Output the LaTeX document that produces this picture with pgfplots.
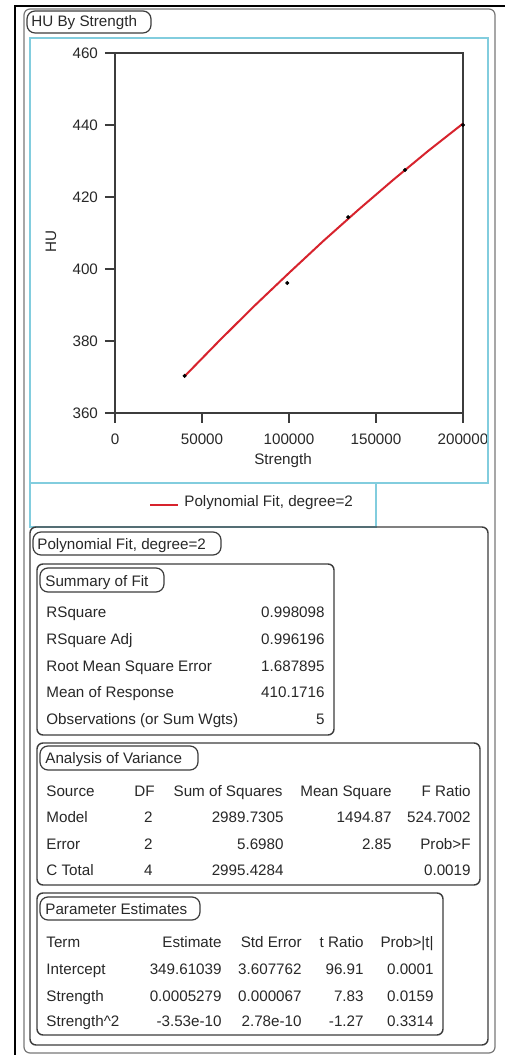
\documentclass[border=0pt]{standalone}
\usepackage{fontspec}
\setmainfont{Liberation Sans}
\usepackage{pgfplots}
\pgfplotsset{compat=1.18}
\definecolor{jmpcyan}{RGB}{130,205,222}
\definecolor{jmpbox}{RGB}{60,60,60}
\definecolor{jmpgrey}{RGB}{120,120,120}
\definecolor{jmpred}{RGB}{215,35,45}
\definecolor{jmptext}{RGB}{40,40,40}
\begin{document}
\begin{tikzpicture}[font=\fontsize{7.6pt}{9pt}\selectfont, text=jmptext]
\useasboundingbox (0,0) rectangle (252.5pt,527.5pt);
\fill[white] (0,0) rectangle (252.5pt,527.5pt);
\begin{axis}[
  at={(57.5pt,321pt)}, anchor=south west,
  scale only axis, width=174pt, height=180pt,
  xmin=0, xmax=200000, ymin=360, ymax=460,
  xtick={0,50000,100000,150000,200000},
  ytick={360,380,400,420,440,460},
  scaled x ticks=false,
  /pgf/number format/assume math mode=true,
  xticklabel style={/pgf/number format/fixed, /pgf/number format/1000 sep={}, yshift=-2pt},
  yticklabel style={/pgf/number format/1000 sep={}},
  tick label style={font=\fontsize{7.6pt}{9pt}\selectfont, text=jmptext},
  tick align=outside, tick pos=left,
  major tick length=5pt,
  axis line style={jmpbox, line width=0.6pt},
  tick style={jmpbox, line width=0.6pt},
  xlabel={Strength}, ylabel={HU},
  xlabel style={at={(axis description cs:0.483,-0.131)}, anchor=center, font=\fontsize{7.6pt}{9pt}\selectfont},
  ylabel style={at={(axis description cs:-0.184,0.475)}, anchor=center, font=\fontsize{7.6pt}{9pt}\selectfont},
  clip=false,
]
\addplot[jmpred, line width=1pt, no marks] coordinates {
 (40000,370.2) (60000,380.1) (80000,389.7) (100000,398.9) (120000,407.9)
 (140000,416.5) (160000,424.8) (180000,432.8) (200000,440.4)};
\addplot[only marks, mark=*, mark size=0.8pt, black] coordinates {
 (40000,370.3) (99000,396.1) (134000,414.4) (166700,427.5) (200000,440.0)};
\end{axis}
\begin{scope}[shift={(0,527.5pt)}, x=0.5pt, y=-0.5pt]
 % window frame
 \draw[black, line width=1pt] (14.5,1055) -- (14.5,6) -- (505,6);
 % outermost box
 \draw[jmpgrey, line width=0.6pt, rounded corners=3pt] (24,9) rectangle (495,1053);
 % HU By Strength title
 \draw[jmpbox, line width=0.6pt, rounded corners=4pt] (27,11) rectangle (151,33);
 \node[anchor=base west, inner sep=0] at (31,27) {HU By Strength};
 % cyan plot frame
 \draw[jmpcyan, line width=0.6pt] (30,38) rectangle (488,483);
 \draw[jmpcyan, line width=0.6pt] (30,483) rectangle (376,527);
 % legend
 \draw[jmpred, line width=1pt] (150,505) -- (178,505);
 \node[anchor=base west, inner sep=0] at (184,507) {Polynomial Fit, degree=2};
 % polynomial fit box
 \draw[jmpbox, line width=0.7pt, rounded corners=3pt] (30,527) rectangle (488,1045);
 \draw[jmpbox, line width=0.6pt, rounded corners=4pt] (33,532) rectangle (221,555);
 \node[anchor=base west, inner sep=0] at (37,550) {Polynomial Fit, degree=2};
 % summary of fit
 \draw[jmpbox, line width=0.7pt, rounded corners=3pt] (37,564) rectangle (334,735);
 \draw[jmpbox, line width=0.6pt, rounded corners=4pt] (40,568) rectangle (164,592);
 \node[anchor=base west, inner sep=0] at (45,587) {Summary of Fit};
 \node[anchor=base west, inner sep=0] at (46,618) {RSquare};
 \node[anchor=base west, inner sep=0] at (46,645) {RSquare Adj};
 \node[anchor=base west, inner sep=0] at (46,672) {Root Mean Square Error};
 \node[anchor=base west, inner sep=0] at (46,698) {Mean of Response};
 \node[anchor=base west, inner sep=0] at (46,725) {Observations (or Sum Wgts)};
 \node[anchor=base east, inner sep=0] at (325,618) {0.998098};
 \node[anchor=base east, inner sep=0] at (325,645) {0.996196};
 \node[anchor=base east, inner sep=0] at (325,672) {1.687895};
 \node[anchor=base east, inner sep=0] at (325,698) {410.1716};
 \node[anchor=base east, inner sep=0] at (325,725) {5};
 % analysis of variance
 \draw[jmpbox, line width=0.7pt, rounded corners=3pt] (37,743) rectangle (480,885);
 \draw[jmpbox, line width=0.6pt, rounded corners=4pt] (40,746) rectangle (198,770);
 \node[anchor=base west, inner sep=0] at (45,764) {Analysis of Variance};
 \node[anchor=base west, inner sep=0] at (46,797) {Source};
 \node[anchor=base west, inner sep=0] at (46,823) {Model};
 \node[anchor=base west, inner sep=0] at (46,850) {Error};
 \node[anchor=base west, inner sep=0] at (46,876) {C Total};
 \node[anchor=base east, inner sep=0] at (155,797) {DF};
 \node[anchor=base east, inner sep=0] at (153,823) {2};
 \node[anchor=base east, inner sep=0] at (153,850) {2};
 \node[anchor=base east, inner sep=0] at (153,876) {4};
 \node[anchor=base east, inner sep=0] at (283,797) {Sum of Squares};
 \node[anchor=base east, inner sep=0] at (284,823) {2989.7305};
 \node[anchor=base east, inner sep=0] at (284,850) {5.6980};
 \node[anchor=base east, inner sep=0] at (284,876) {2995.4284};
 \node[anchor=base east, inner sep=0] at (392,797) {Mean Square};
 \node[anchor=base east, inner sep=0] at (392,823) {1494.87};
 \node[anchor=base east, inner sep=0] at (392,850) {2.85};
 \node[anchor=base east, inner sep=0] at (471,797) {F Ratio};
 \node[anchor=base east, inner sep=0] at (471,823) {524.7002};
 \node[anchor=base east, inner sep=0] at (471,850) {Prob>F};
 \node[anchor=base east, inner sep=0] at (471,876) {0.0019};
 % parameter estimates
 \draw[jmpbox, line width=0.7pt, rounded corners=3pt] (37,893) rectangle (443,1035);
 \draw[jmpbox, line width=0.6pt, rounded corners=4pt] (40,897) rectangle (200,920);
 \node[anchor=base west, inner sep=0] at (45,915) {Parameter Estimates};
 \node[anchor=base west, inner sep=0] at (46,948) {Term};
 \node[anchor=base west, inner sep=0] at (46,975) {Intercept};
 \node[anchor=base west, inner sep=0] at (46,1001) {Strength};
 \node[anchor=base west, inner sep=0] at (46,1027) {Strength\textasciicircum 2};
 \node[anchor=base east, inner sep=0] at (222,948) {Estimate};
 \node[anchor=base east, inner sep=0] at (222,975) {349.61039};
 \node[anchor=base east, inner sep=0] at (222,1001) {0.0005279};
 \node[anchor=base east, inner sep=0] at (222,1027) {-3.53e-10};
 \node[anchor=base east, inner sep=0] at (302,948) {Std Error};
 \node[anchor=base east, inner sep=0] at (302,975) {3.607762};
 \node[anchor=base east, inner sep=0] at (302,1001) {0.000067};
 \node[anchor=base east, inner sep=0] at (302,1027) {2.78e-10};
 \node[anchor=base east, inner sep=0] at (364,948) {t Ratio};
 \node[anchor=base east, inner sep=0] at (364,975) {96.91};
 \node[anchor=base east, inner sep=0] at (364,1001) {7.83};
 \node[anchor=base east, inner sep=0] at (364,1027) {-1.27};
 \node[anchor=base east, inner sep=0] at (434,948) {Prob>|t|};
 \node[anchor=base east, inner sep=0] at (434,975) {0.0001};
 \node[anchor=base east, inner sep=0] at (434,1001) {0.0159};
 \node[anchor=base east, inner sep=0] at (434,1027) {0.3314};
\end{scope}
\end{tikzpicture}
\end{document}
